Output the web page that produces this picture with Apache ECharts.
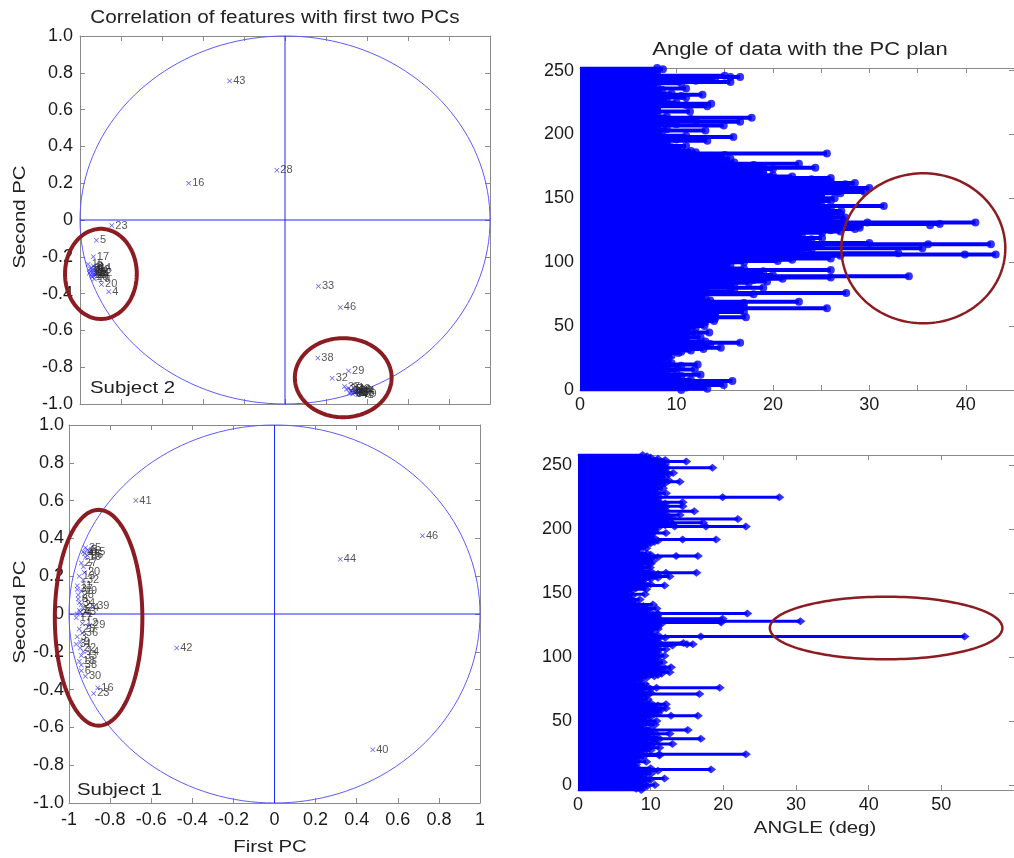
<!DOCTYPE html>
<html><head><meta charset="utf-8">
<script src="https://cdn.jsdelivr.net/npm/echarts@6/dist/echarts.min.js"></script>
<style>html,body{margin:0;padding:0;background:#fff}#c{width:1014px;height:858px}</style>
</head><body><div id="c"></div>
<script>
// ---------- Subject 2 (top-left) feature correlations ----------
const s2Labels = ['43','28','16','23','5','17','20','4','33','46','38','29','32',
  '1','2','3','6','7','8','9','10','11','12','13','14','15','18','19','21','22','24',
  '25','26','27','30','31','34','35','36','37','39','40','41','42','44','45'];
const s2X = [-0.27,-0.04,-0.47,-0.845,-0.92,-0.935,-0.895,-0.86,0.163,0.27,0.16,0.31,0.23,
  -0.94,-0.93,-0.945,-0.925,-0.95,-0.935,-0.92,-0.94,-0.955,-0.93,-0.945,-0.925,-0.96,-0.94,-0.93,-0.95,-0.92,-0.935,
  0.30,0.32,0.34,0.35,0.31,0.33,0.36,0.345,0.29,0.37,0.325,0.355,0.34,0.36,0.315];
const s2Y = [0.755,0.27,0.20,-0.03,-0.11,-0.20,-0.35,-0.39,-0.36,-0.475,-0.75,-0.82,-0.86,
  -0.27,-0.29,-0.26,-0.30,-0.28,-0.25,-0.28,-0.31,-0.29,-0.27,-0.30,-0.26,-0.24,-0.285,-0.32,-0.265,-0.29,-0.30,
  -0.92,-0.93,-0.94,-0.93,-0.915,-0.945,-0.94,-0.925,-0.905,-0.945,-0.935,-0.95,-0.92,-0.93,-0.94];

// ---------- Subject 1 (bottom-left) feature correlations ----------
const s1Labels = ['41','46','44','42','40',
  '1','2','3','4','5','6','7','8','9','10','11','12','13','14','15','16','17','18','19','20',
  '21','22','23','24','25','26','27','28','29','30','31','32','33','34','35','36','37','38','39','43','45'];
const s1X = [-0.675,0.72,0.32,-0.476,0.478,
  -0.95,-0.94,-0.96,-0.93,-0.91,-0.94,-0.93,-0.955,-0.945,-0.92,-0.96,-0.935,-0.95,-0.93,-0.90,-0.86,-0.965,-0.95,-0.94,-0.925,
  -0.96,-0.945,-0.88,-0.93,-0.95,-0.91,-0.94,-0.955,-0.90,-0.92,-0.965,-0.93,-0.94,-0.95,-0.92,-0.935,-0.96,-0.94,-0.88,-0.945,-0.925];
const s1Y = [0.6,0.414,0.29,-0.18,-0.718,
  0.02,0.05,-0.12,0.33,0.34,-0.30,0.25,0.08,-0.15,0.30,0.15,-0.05,0.20,-0.20,0.33,-0.39,-0.02,-0.25,0.12,0.22,
  0.0,-0.18,-0.42,0.03,-0.08,0.31,0.27,0.10,-0.06,-0.33,-0.16,0.18,-0.22,0.06,0.35,-0.10,0.13,-0.27,0.04,0.01,0.32];

// ---------- Angle of data with the PC plan (top-right: rows 0..252) ----------
const angleTop = [
10.5,13.2,11,9.5,14.9,12,10,15.8,11.5,9.5,
9,10.5,12.5,9,8.5,10,11.9,9,8.5,10.5,
12.2,9.5,8,8.5,9,9.2,8.8,9.5,9,10.2,
10.5,11.5,12.8,14.6,12,11.5,13.5,16.6,13,10.5,
11,12.5,11,10.5,12,13.4,11.5,10,11,12,
12.9,11,12,13,13.9,12,14,17.2,14,12.5,
14,17,13.5,16,25.6,17,13,12,17,22.7,
13.5,12,13,11,12,18,27.6,16,13,12.5,
19,15.5,14,16,17.5,19.4,18,21,26,34.1,
20,18,17.5,19,26,17,15,14,15.6,14,
17,20.5,22,26,21,27,43.1,33,20,23,
24,35.5,21,25,42.6,30,19,22,24,25.1,
22,23,21,25.1,27,26,28.5,29,28,29,
37.3,41,27.4,26,25.5,27.5,24,26,27,25.5,
27.1,24,26,25,31.5,25,23,22.7,26,24.5,
26.4,24,25,25,27,29.5,27,26,30,28,
27,27.5,28.5,26,25,24,26,22,20,19,
19,18,17,20,24.4,19,18,22.7,16,15,
14,15.6,14,13,15,25.6,12,11.5,10.5,10,
9.5,11,9,8.5,9,13.2,10,9,15.9,11,
8.5,7.5,8,13,9,8,7.5,14.9,10,9,
16.6,12,11.5,17.8,9,7.5,7,8,11.4,8,
7.5,8,13.2,11,13.6,10,8.5,8,9,11,
10.5,12.7,9.5,7.5,8,8.5,11,7.5,7,8,
10.5,15.6,12,9.5,14,16.6,15,8,7.5,7,
8,8.6,8];
const topMid = [[15.6,245],[29.8,131],[36.3,129],[36.1,114],[39.9,106]];

// ---------- bottom-right: rows -4..258 ----------
const angleBot = [
8.7,8,9,9.5,10.6,9,8.5,9.5,10,11.9,
9.5,8,9,10.1,9,11,18.3,10,8,7.5,
8,7,9.4,8,7.5,8.5,9,11.2,23.1,9,
8.5,10,9.5,11.2,10,9.5,13.0,10.5,9,11,
16.9,11,9.5,10,12.6,10.5,9.5,15.1,10,9,
8.5,10.6,9,10,10.8,9.5,8.5,10,16.5,10,
11,10.5,11,11.5,12.1,10,11,12.1,10,9,
8.5,9.6,9,8,9.5,16.7,10,9,8.5,10,
19.5,9.5,8.5,9.2,7.5,8,8.5,8.7,9.5,10.5,
11,11.5,12.6,11,11.5,12,12.8,11,10.5,11,
11.7,10,11,10.5,11,11.9,10,11,10.5,11,
12.1,10.5,11,13,15.8,14.5,11,10.5,11,12,
53.2,11,10,10.3,9.5,10,11,10.9,10,11,
11.5,19.7,30.6,11,19.9,11,10.5,11,23.3,10,
9,9.5,10.8,9.5,9,10.3,8,7,7.5,8.5,
7,6.5,7.5,9.2,7,6.5,7.5,9.4,8,9,
11.9,10,9,8.5,9,10,11,12.6,10.5,11,
16.3,10,9,8.5,9.9,8.5,9,10,9.5,10.3,
9,10,11,16.5,10,9.5,8,8.5,8,9.4,
8.5,9,9.5,10,10.5,11,19.0,10.5,10,9.5,
10,12.1,10.5,10,10.5,11,23.1,12,13,17.2,
12.5,12,22.0,13,12,14.0,12,11.5,16.0,12,
11,12,14.4,11,12,14.4,11,10,11,27.7,
11,10,12.1,10.5,11,10,11.7,11,10.5,11.5,
12,14.0,12.5,11,11.5,12,11,12.5,13.1,12,
11,12,18.5,12,11.5,12,11,14.9,12,11,
10,9.5,8.9];
const botMid = [[19.9,225],[17.6,202],[13.3,202],[14.4,192],[13.5,179],[12.1,166],[11.0,134],[19.7,128],[16.9,116],[15,110],[10.8,76],[12.8,54],[11.2,24]];
const botFirstRow = -4;

// tick values
const rowTickLabels = [0,50,100,150,200,250];
const topAngleTicks = [0,5,10,15,20,25,30,35,40,45];
const topAngleLabels = [0,10,20,30,40];
const botAngleTicks = [0,10,20,30,40,50,60];
const botAngleLabels = [0,10,20,30,40,50];

// annotation ellipses [cx, cy, rx, ry] in data units
const unitCircle = [[0,0,1,1]];
const ringS2 = [[-0.898,-0.293,0.175,0.245],[0.284,-0.857,0.236,0.215]];
const ringS1 = [[-0.856,-0.02,0.213,0.571]];
const ringTop = [[35.6,110.9,8.5,58.7]];
const ringBot = [[42.4,122.7,16,24.5]];

// ---------- build ----------
const frame = '#8a8a8a';
const FONT = 'Liberation Sans';
const BLUE = '#0000ff';
const topRows = angleTop.map((_, i) => String(i));
const botRows = angleBot.map((_, i) => String(i + botFirstRow));

function fmtY(v){ return Math.abs(v) < 1e-9 ? '0' : v.toFixed(1); }
function fmtX(v){ return Math.abs(v) < 1e-9 ? '0' : String(+v.toFixed(1)); }

function axis(o, label){
  const base = {type:'value', splitLine:{show:false},
    axisLine:{show:true,onZero:false,lineStyle:{color:frame,width:1}},
    axisTick:{show:true,inside:true,length:5,lineStyle:{color:frame}},
    axisLabel: label ? Object.assign({show:true,color:'#1a1a1a',fontSize:18,fontFamily:FONT,margin:8}, label) : {show:false}};
  return Object.assign(base, o);
}
function withTicks(a, ticks){ a.axisTick.customValues = ticks; return a; }

function ellipsePts(api, cx, cy, rx, ry){
  const pts = [];
  for (let k = 0; k <= 160; k++) {
    const t = k / 160 * Math.PI * 2;
    pts.push(api.coord([cx + rx * Math.cos(t), cy + ry * Math.sin(t)]));
  }
  return pts;
}
function makeEllipse(color, width){
  return function(params, api){
    return {type:'polyline', shape:{points:ellipsePts(api, api.value(0), api.value(1), api.value(2), api.value(3))},
      style:{stroke:color, lineWidth:width, fill:null}};
  };
}
function circleWithCross(params, api){
  const l = api.coord([-1,0]), r = api.coord([1,0]), b = api.coord([0,-1]), t = api.coord([0,1]);
  return {type:'group', children:[
    {type:'polyline', shape:{points:ellipsePts(api, api.value(0), api.value(1), api.value(2), api.value(3))},
      style:{stroke:'#5a5aff', lineWidth:1, fill:null}},
    {type:'line', shape:{x1:l[0], y1:l[1], x2:r[0], y2:r[1]}, style:{stroke:'#2424ff', lineWidth:1}},
    {type:'line', shape:{x1:b[0], y1:b[1], x2:t[0], y2:t[1]}, style:{stroke:'#2424ff', lineWidth:1}}
  ]};
}
function ellipseSeries(data, xi, yi, color, width, z){
  return {type:'custom', xAxisIndex:xi, yAxisIndex:yi, data:data, renderItem:makeEllipse(color,width),
    encode:{x:0,y:1}, silent:true, clip:false, z:z, animation:false};
}
function circleSeries(xi, yi){
  return {type:'custom', xAxisIndex:xi, yAxisIndex:yi, data:unitCircle, renderItem:circleWithCross,
    encode:{x:0,y:1}, silent:true, clip:false, z:1, animation:false};
}
function pcScatter(xs, ys, labels, xi, yi){
  return {type:'scatter', xAxisIndex:xi, yAxisIndex:yi,
    data: xs.map((x,i)=>[x, ys[i]]),
    symbol:'path://M0,1L1,0L5,4L9,0L10,1L6,5L10,9L9,10L5,6L1,10L0,9L4,5Z',
    symbolSize:5, itemStyle:{color:'#2f2fff'},
    label:{show:true, position:'right', distance:1, fontSize:11, fontFamily:FONT, color:'#2a2a2a',
      formatter: p => labels[p.dataIndex]},
    z:3, animation:false};
}
function txt(x, y, s, opt){
  return Object.assign({type:'text', x:x, y:y, z:10, scaleX:1.2,
    style:{text:s, font:'17px "Liberation Sans"', fill:'#222', align:'center', verticalAlign:'middle'}}, opt || {});
}

const option = {
  animation:false,
  grid:[
    {left:80, top:36, width:410, height:368},
    {left:69, top:425, width:411, height:378},
    {left:580, top:68, width:442, height:322},
    {left:578, top:455, width:438, height:335}
  ],
  xAxis:[
    axis({gridIndex:0, position:'bottom', min:-1, max:1, interval:0.2}),
    axis({gridIndex:0, position:'top', min:-1, max:1, interval:0.2}),
    axis({gridIndex:1, position:'bottom', min:-1, max:1, interval:0.2}, {formatter:fmtX, margin:8}),
    axis({gridIndex:1, position:'top', min:-1, max:1, interval:0.2}),
    withTicks(axis({gridIndex:2, position:'bottom', min:0, max:45}, {customValues:topAngleLabels, margin:6}), topAngleTicks),
    withTicks(axis({gridIndex:2, position:'top', min:0, max:45}), topAngleTicks),
    withTicks(axis({gridIndex:3, position:'bottom', min:0, max:60}, {customValues:botAngleLabels, margin:6}), botAngleTicks),
    withTicks(axis({gridIndex:3, position:'top', min:0, max:60}), botAngleTicks)
  ],
  yAxis:[
    axis({gridIndex:0, position:'left', min:-1, max:1, interval:0.2}, {formatter:fmtY, margin:7}),
    axis({gridIndex:0, position:'right', min:-1, max:1, interval:0.2}),
    axis({gridIndex:1, position:'left', min:-1, max:1, interval:0.2}, {formatter:fmtY, margin:5}),
    axis({gridIndex:1, position:'right', min:-1, max:1, interval:0.2}),
    withTicks(axis({gridIndex:2, position:'left', min:0, max:252}, {customValues:rowTickLabels, margin:6}), rowTickLabels),
    {type:'category', gridIndex:2, data:topRows, boundaryGap:false, show:false},
    withTicks(axis({gridIndex:2, position:'right', min:0, max:252}), rowTickLabels),
    withTicks(axis({gridIndex:3, position:'left', min:botFirstRow, max:258}, {customValues:rowTickLabels, margin:6}), rowTickLabels),
    {type:'category', gridIndex:3, data:botRows, boundaryGap:false, show:false},
    withTicks(axis({gridIndex:3, position:'right', min:botFirstRow, max:258}), rowTickLabels)
  ],
  graphic:[
    txt(275, 18, 'Correlation of features with first two PCs', {scaleX:1.15, style:{text:'Correlation of features with first two PCs', font:'18px "Liberation Sans"', fill:'#222', align:'center', verticalAlign:'middle'}}),
    txt(800, 50, 'Angle of data with the PC plan', {scaleX:1.22, style:{text:'Angle of data with the PC plan', font:'18px "Liberation Sans"', fill:'#222', align:'center', verticalAlign:'middle'}}),
    txt(20, 217, 'Second PC', {rotation:Math.PI/2}),
    txt(20, 612, 'Second PC', {rotation:Math.PI/2}),
    txt(270, 847, 'First PC'),
    txt(815, 828, 'ANGLE (deg)'),
    txt(90, 388, 'Subject 2', {style:{text:'Subject 2', font:'17px "Liberation Sans"', fill:'#222', align:'left', verticalAlign:'middle'}}),
    txt(77, 790, 'Subject 1', {style:{text:'Subject 1', font:'17px "Liberation Sans"', fill:'#222', align:'left', verticalAlign:'middle'}})
  ],
  series:[
    // left panels
    circleSeries(0, 0),
    pcScatter(s2X, s2Y, s2Labels, 0, 0),
    ellipseSeries(ringS2, 0, 0, '#8c1c22', 4, 5),
    circleSeries(2, 2),
    pcScatter(s1X, s1Y, s1Labels, 2, 2),
    ellipseSeries(ringS1, 2, 2, '#8c1c22', 4, 5),
    // top-right stems
    {type:'bar', xAxisIndex:4, yAxisIndex:5, data:angleTop, barWidth:4, itemStyle:{color:BLUE}, z:2, animation:false},
    {type:'scatter', xAxisIndex:4, yAxisIndex:5, data:angleTop.map((v,i)=>[v,i]), symbol:'circle', symbolSize:8, itemStyle:{color:BLUE}, z:3, animation:false},
    {type:'scatter', xAxisIndex:4, yAxisIndex:4, data:topMid, symbol:'circle', symbolSize:8, itemStyle:{color:BLUE}, z:3, animation:false},
    ellipseSeries(ringTop, 4, 4, '#8c1c22', 2.5, 5),
    // bottom-right stems
    {type:'bar', xAxisIndex:6, yAxisIndex:8, data:angleBot, barWidth:3, itemStyle:{color:BLUE}, z:2, animation:false},
    {type:'scatter', xAxisIndex:6, yAxisIndex:8, data:angleBot.map((v,i)=>[v,i]), symbol:'diamond', symbolSize:[10,8], itemStyle:{color:BLUE}, z:3, animation:false},
    {type:'scatter', xAxisIndex:6, yAxisIndex:7, data:botMid, symbol:'diamond', symbolSize:[10,8], itemStyle:{color:BLUE}, z:3, animation:false},
    ellipseSeries(ringBot, 6, 7, '#8c1c22', 2.5, 5)
  ]
};
const chart = echarts.init(document.getElementById('c'));
chart.setOption(option);
</script></body></html>
